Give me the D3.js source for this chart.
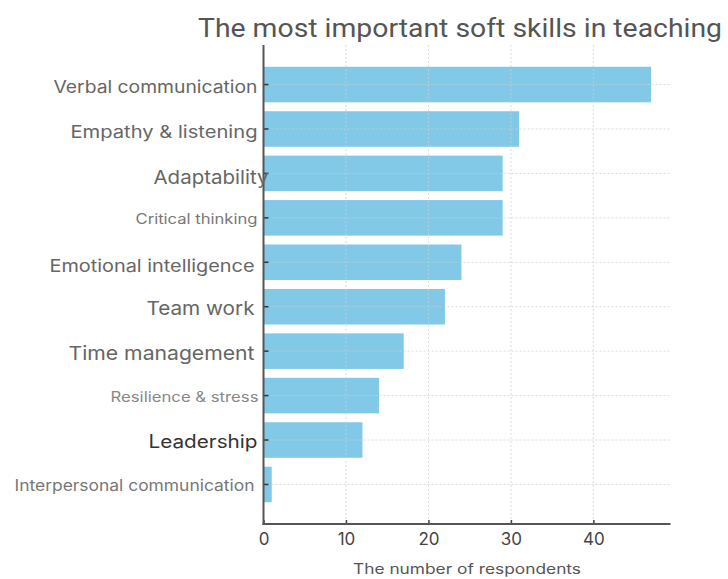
<!DOCTYPE html>
<html>
<head>
<meta charset="utf-8">
<script src="https://cdn.jsdelivr.net/npm/d3@7"></script>
<style>
  html, body { margin: 0; padding: 0; background: #fff; }
  svg { display: block; }
</style>
</head>
<body>
<svg id="chart" width="728" height="579"></svg>
<script>
// Survey results: respondents naming each soft skill as most important
const skills = [
  "Verbal communication",
  "Empathy & listening",
  "Adaptability",
  "Critical thinking",
  "Emotional intelligence",
  "Team work",
  "Time management",
  "Resilience & stress",
  "Leadership",
  "Interpersonal communication"
];
const respondents = [47, 31, 29, 29, 24, 22, 17, 14, 12, 1];
const xTicks = [0, 10, 20, 30, 40];

const titleText = "The most important soft skills in teaching";
const xTitleText = "The number of respondents";

// Per-label typography for the category axis
const labelStyle = {
  "Verbal communication":        { size: 17, color: "#666", weight: 400, len: 204, dx: 0,  dy: 2 },
  "Empathy & listening":         { size: 17, color: "#666", weight: 400, len: 187, dx: 0,  dy: 3 },
  "Adaptability":                { size: 19, color: "#666", weight: 400, len: 115, dx: 11, dy: 4 },
  "Critical thinking":           { size: 14, color: "#777", weight: 400, len: 122, dx: 0,  dy: 1 },
  "Emotional intelligence":      { size: 17, color: "#666", weight: 400, len: 205, dx: -3, dy: 4 },
  "Team work":                   { size: 19, color: "#666", weight: 400, len: 108, dx: -3, dy: 2 },
  "Time management":             { size: 19, color: "#666", weight: 400, len: 186, dx: -3, dy: 2 },
  "Resilience & stress":         { size: 14, color: "#888", weight: 400, len: 148, dx: 1,  dy: 1 },
  "Leadership":                  { size: 18, color: "#333", weight: 400, len: 109, dx: 0,  dy: 1 },
  "Interpersonal communication": { size: 16, color: "#777", weight: 400, len: 240, dx: -3, dy: 1 }
};

const svg = d3.select("#chart");
const plot = { left: 263.5, right: 670.5, top: 45, bottom: 524 };

const x = d3.scaleLinear()
  .domain([0, 47 * 1.05])
  .range([plot.left, plot.right]);

const y = d3.scaleBand()
  .domain(skills)
  .range([plot.top, plot.bottom])
  .paddingInner(0.2)
  .paddingOuter(0.49);

const grid = svg.append("g").attr("class", "grid");

// vertical gridlines at value ticks
grid.selectAll("line.vx")
  .data(xTicks.filter(d => d > 0))
  .join("line")
  .attr("class", "vx")
  .attr("x1", d => x(d)).attr("x2", d => x(d))
  .attr("y1", plot.top).attr("y2", plot.bottom)
  .attr("stroke", "#cfcfcf")
  .attr("stroke-width", 1)
  .attr("stroke-dasharray", "2,2");

// horizontal gridlines through category centres
grid.selectAll("line.hy")
  .data(skills)
  .join("line")
  .attr("class", "hy")
  .attr("x1", plot.left).attr("x2", plot.right)
  .attr("y1", d => y(d) + y.bandwidth() / 2)
  .attr("y2", d => y(d) + y.bandwidth() / 2)
  .attr("stroke", "#cfcfcf")
  .attr("stroke-width", 1)
  .attr("stroke-dasharray", "2,2");

// bars
svg.append("g").selectAll("rect")
  .data(skills.map((s, i) => ({ skill: s, value: respondents[i] })))
  .join("rect")
  .attr("x", x(0))
  .attr("y", d => y(d.skill))
  .attr("width", d => x(d.value) - x(0))
  .attr("height", y.bandwidth())
  .attr("fill", "#82c9e8");

// gridlines stay faintly visible across the bars
grid.raise();
grid.attr("opacity", 0.7);

// bottom axis
const xAxis = svg.append("g")
  .attr("transform", `translate(0,${plot.bottom})`)
  .call(d3.axisBottom(x).tickValues(xTicks).tickSize(-4).tickPadding(8).tickFormat(d3.format("d")));
xAxis.select(".domain").remove();
xAxis.selectAll(".tick line").attr("stroke", "#444").attr("stroke-width", 1.5);
xAxis.selectAll(".tick text")
  .attr("fill", "#444")
  .attr("font-family", "Inter, 'DejaVu Sans', sans-serif")
  .attr("font-size", 17)
  .attr("dy", "0.75em")
  .attr("y", 8);

// left axis ticks (inward)
const yAxis = svg.append("g")
  .attr("transform", `translate(${plot.left},0)`)
  .call(d3.axisLeft(y).tickSize(-5).tickFormat(""));
yAxis.select(".domain").remove();
yAxis.selectAll(".tick line").attr("stroke", "#333").attr("stroke-width", 1.5);

// spines
svg.append("line")
  .attr("x1", plot.left).attr("x2", plot.left)
  .attr("y1", plot.top).attr("y2", plot.bottom + 1)
  .attr("stroke", "#555").attr("stroke-width", 2);
svg.append("line")
  .attr("x1", plot.left - 1).attr("x2", plot.right)
  .attr("y1", plot.bottom).attr("y2", plot.bottom)
  .attr("stroke", "#555").attr("stroke-width", 2);

// category labels
svg.append("g").selectAll("text")
  .data(skills)
  .join("text")
  .attr("x", d => plot.left - 6 + labelStyle[d].dx)
  .attr("y", d => y(d) + y.bandwidth() / 2 + labelStyle[d].dy)
  .attr("text-anchor", "end")
  .attr("dominant-baseline", "central")
  .attr("font-family", "Inter, 'DejaVu Sans', sans-serif")
  .attr("font-size", d => labelStyle[d].size)
  .attr("font-weight", d => labelStyle[d].weight)
  .attr("fill", d => labelStyle[d].color)
  .attr("textLength", d => labelStyle[d].len)
  .attr("lengthAdjust", "spacingAndGlyphs")
  .text(d => d);

// axis title
svg.append("text")
  .attr("x", (plot.left + plot.right) / 2)
  .attr("y", 568)
  .attr("text-anchor", "middle")
  .attr("dominant-baseline", "central")
  .attr("font-family", "Inter, 'DejaVu Sans', sans-serif")
  .attr("font-size", 14)
  .attr("fill", "#555")
  .attr("textLength", 228)
  .attr("lengthAdjust", "spacingAndGlyphs")
  .text(xTitleText);

// chart title
svg.append("text")
  .attr("x", 460)
  .attr("y", 28)
  .attr("text-anchor", "middle")
  .attr("dominant-baseline", "central")
  .attr("font-family", "Roboto, 'Liberation Sans', sans-serif")
  .attr("font-size", 25)
  .attr("fill", "#555")
  .attr("textLength", 524)
  .attr("lengthAdjust", "spacingAndGlyphs")
  .text(titleText);
</script>
</body>
</html>
